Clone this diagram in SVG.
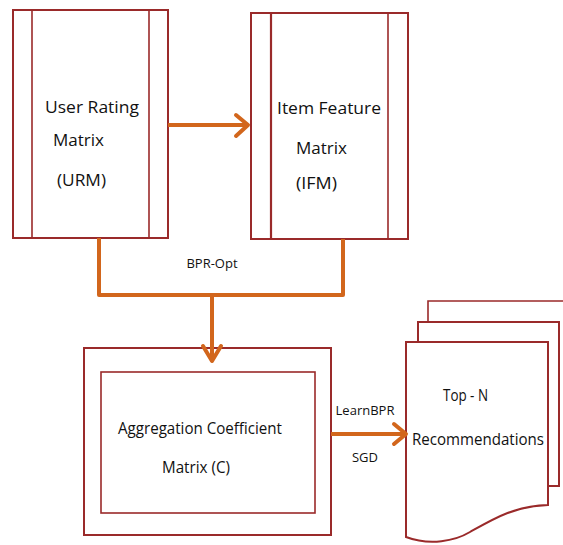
<svg xmlns="http://www.w3.org/2000/svg" width="563" height="545" viewBox="0 0 563 545">
<defs>
<style>
.box{fill:#fff;stroke:#9a2a2a;stroke-width:2}
.thin{fill:none;stroke:#9a2a2a;stroke-width:1.6}
.con{fill:none;stroke:#d2661c;stroke-width:4;stroke-linejoin:round}
.head{fill:none;stroke:#d2661c;stroke-width:4;stroke-linecap:round;stroke-linejoin:round}
.lbl{font-family:"Open Sans","Liberation Sans",sans-serif;fill:#111;font-size:16px}
.sm{font-family:"Open Sans","Liberation Sans",sans-serif;fill:#111;font-size:13px}
</style>
</defs>
<rect width="563" height="545" fill="#fff"/>
<g id="urm">
<rect class="box" x="13" y="10" width="155" height="228"/>
<line class="thin" x1="32" y1="10" x2="32" y2="238"/>
<line class="thin" x1="149" y1="10" x2="149" y2="238"/>
<text class="lbl" x="45" y="113" textLength="94" lengthAdjust="spacingAndGlyphs">User Rating</text>
<text class="lbl" x="53" y="146" textLength="51" lengthAdjust="spacingAndGlyphs">Matrix</text>
<text class="lbl" x="57" y="186" textLength="49" lengthAdjust="spacingAndGlyphs">(URM)</text>
</g>
<g id="ifm">
<rect class="box" x="251" y="13" width="157" height="226"/>
<line class="thin" x1="271" y1="13" x2="271" y2="239" style="stroke-width:2.2"/>
<line class="thin" x1="388" y1="13" x2="388" y2="239"/>
<text class="lbl" x="277" y="114" textLength="104" lengthAdjust="spacingAndGlyphs">Item Feature</text>
<text class="lbl" x="296" y="154" textLength="51" lengthAdjust="spacingAndGlyphs">Matrix</text>
<text class="lbl" x="296" y="189" textLength="41" lengthAdjust="spacingAndGlyphs">(IFM)</text>
</g>
<g id="aggregation">
<rect class="box" x="84" y="348" width="247" height="187"/>
<rect class="thin" x="101" y="372" width="214" height="141"/>
<text class="lbl" x="118" y="434" textLength="164" lengthAdjust="spacingAndGlyphs">Aggregation Coefficient</text>
<text class="lbl" x="162" y="473" textLength="68" lengthAdjust="spacingAndGlyphs">Matrix (C)</text>
</g>
<g id="topn">
<path class="thin" d="M428,322 V301 H563"/>
<path class="box" d="M418,342 V322 H559 V486 H549"/>
<path class="box" d="M406,342 H548 V505 C515,506 495,518 470,532 C455,541 430,546 406,537 Z"/>
<text class="lbl" x="443" y="401" textLength="45" lengthAdjust="spacingAndGlyphs">Top - N</text>
<text class="lbl" x="412" y="445" textLength="132" lengthAdjust="spacingAndGlyphs">Recommendations</text>
</g>
<g id="connectors">
<path class="con" d="M168,125 H246"/>
<path class="head" d="M236,115 L248,125 L236,136"/>
<path class="con" d="M99,238 V295 H343 V239"/>
<path class="con" d="M212,295 V358"/>
<path class="head" d="M203,346 L212,361 L221,346"/>
<path class="con" d="M331,434 H404"/>
<path class="head" d="M394,424 L406,434 L394,444"/>
<text class="sm" x="212" y="268" text-anchor="middle">BPR-Opt</text>
<text class="sm" x="365" y="415" text-anchor="middle">LearnBPR</text>
<text class="sm" x="365" y="462" text-anchor="middle">SGD</text>
</g>
</svg>
